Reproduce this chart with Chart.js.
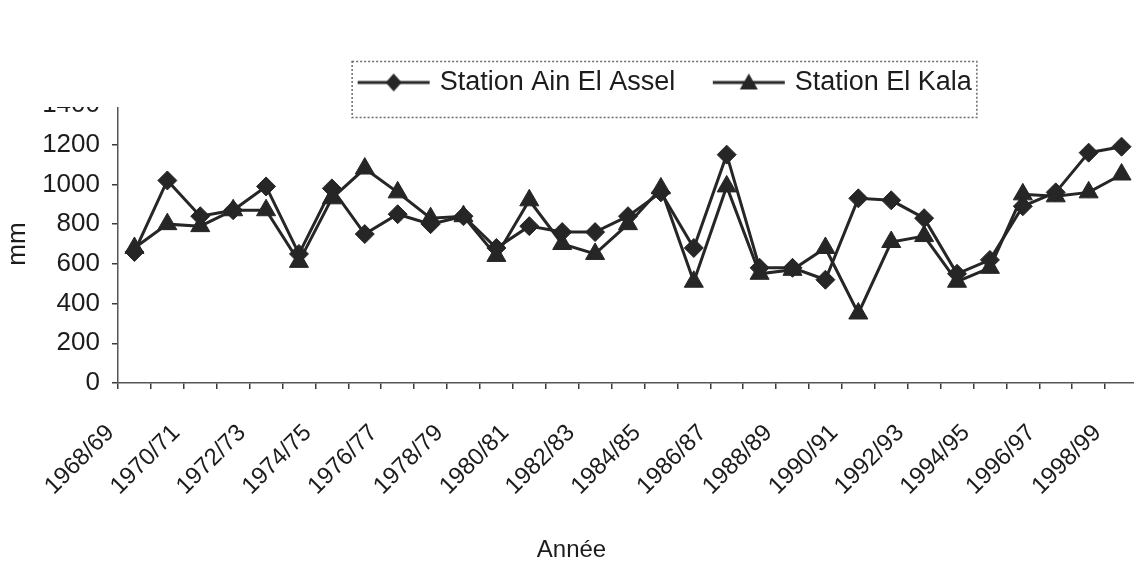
<!DOCTYPE html>
<html>
<head>
<meta charset="utf-8">
<title>Précipitations annuelles</title>
<script src="https://cdn.jsdelivr.net/npm/chart.js@4"></script>
<style>
  html, body { margin: 0; padding: 0; background: #ffffff; overflow: hidden; }
  #wrap { position: relative; width: 1150px; height: 571px; }
</style>
</head>
<body>
<div id="wrap"><canvas id="pluie"></canvas></div>
<script>
// Hydrological years (Sept–Aug)
const years = ['1968/69', '1969/70', '1970/71', '1971/72', '1972/73', '1973/74', '1974/75',
  '1975/76', '1976/77', '1977/78', '1978/79', '1979/80', '1980/81', '1981/82', '1982/83',
  '1983/84', '1984/85', '1985/86', '1986/87', '1987/88', '1988/89', '1989/90', '1990/91',
  '1991/92', '1992/93', '1993/94', '1994/95', '1995/96', '1996/97', '1997/98', '1998/99'];

// Annual rainfall totals, mm
const ainElAssel = [660, 1020, 840, 870, 990, 650, 980, 750, 850, 800, 840, 680, 790, 760, 760,
  840, 960, 680, 1150, 580, 580, 520, 930, 920, 830, 550, 620, 890, 960, 1160, 1190];
const elKala = [680, 800, 790, 870, 870, 610, 930, 1080, 960, 830, 840, 640, 920, 700, 650,
  800, 980, 510, 990, 550, 570, 680, 350, 710, 740, 510, 580, 950, 940, 960, 1050];

const seriesNames = ['Station Ain El Assel', 'Station El Kala'];
const yMin = 0, yMax = 1400, yStep = 200;

const INK = '#262626';
const TEXT = '#1c1c1c';
const FONT = "'Liberation Sans', Arial, sans-serif";

// Legend glyphs: a short line with the series marker in the middle
function legendGlyph(kind) {
  const c = document.createElement('canvas');
  c.width = 74; c.height = 26;
  const g = c.getContext('2d');
  g.strokeStyle = INK; g.fillStyle = INK; g.lineWidth = 3;
  g.beginPath(); g.moveTo(1, 13); g.lineTo(73, 13); g.stroke();
  g.beginPath();
  if (kind === 'diamond') {
    g.moveTo(37, 4); g.lineTo(45, 13); g.lineTo(37, 22); g.lineTo(29, 13);
  } else {
    g.moveTo(37, 4); g.lineTo(46, 20); g.lineTo(28, 20);
  }
  g.closePath(); g.fill();
  return c;
}
const glyphs = [legendGlyph('diamond'), legendGlyph('triangle')];

// Clip the strip above the plot on the left, leave the rest untouched
const topClip = {
  id: 'topClip',
  beforeDraw(chart) {
    const { ctx, width, height } = chart;
    ctx.save();
    ctx.beginPath();
    ctx.rect(0, 107, width, height - 107);
    ctx.rect(140, 0, width - 140, 107);
    ctx.clip();
  },
  afterDraw(chart) { chart.ctx.restore(); }
};

// Move the legend row right and frame it with a dotted box
const legendFrame = {
  id: 'legendFrame',
  afterLayout(chart) {
    const lg = chart.legend;
    lg.left += 95; lg.right += 95;
  },
  afterDraw(chart) {
    const lg = chart.legend;
    const hb = lg.legendHitBoxes;
    if (!hb || !hb.length) return;
    const last = hb[hb.length - 1];
    const opts = lg.options.labels;
    const cy = lg.top + opts.padding + opts.font.size / 2;
    const x0 = hb[0].left - 9, x1 = last.left + last.width + 5;
    const y0 = cy - 21, y1 = cy + 35;
    const ctx = chart.ctx;
    ctx.save();
    ctx.strokeStyle = '#6a6a6a';
    ctx.lineWidth = 1.5;
    ctx.setLineDash([2, 2]);
    ctx.strokeRect(x0, y0, x1 - x0, y1 - y0);
    ctx.restore();
  }
};

new Chart(document.getElementById('pluie'), {
  type: 'line',
  data: {
    labels: years,
    datasets: [
      {
        label: seriesNames[0],
        data: ainElAssel,
        borderColor: INK,
        backgroundColor: INK,
        borderWidth: 3,
        pointStyle: 'rectRot',
        pointRadius: 9.5,
        pointBorderWidth: 1,
        tension: 0
      },
      {
        label: seriesNames[1],
        data: elKala,
        borderColor: INK,
        backgroundColor: INK,
        borderWidth: 3,
        pointStyle: 'triangle',
        pointRadius: 11,
        pointBorderWidth: 1,
        tension: 0
      }
    ]
  },
  options: {
    responsive: true,
    maintainAspectRatio: false,
    animation: false,
    layout: { padding: { top: 28, right: 7, bottom: 0, left: 0 } },
    plugins: {
      tooltip: { enabled: false },
      title: {
        display: true,
        text: 'Année',
        position: 'bottom',
        color: TEXT,
        font: { family: FONT, size: 24, weight: 'normal' },
        padding: { top: 4, bottom: 6 }
      },
      legend: {
        position: 'top',
        align: 'center',
        maxHeight: 77,
        labels: {
          usePointStyle: true,
          pointStyleWidth: 65,
          padding: 41,
          color: TEXT,
          font: { family: FONT, size: 27 },
          generateLabels(chart) {
            const items = Chart.defaults.plugins.legend.labels.generateLabels(chart);
            items.forEach((it, i) => { it.pointStyle = glyphs[i]; });
            return items;
          }
        }
      }
    },
    scales: {
      x: {
        type: 'category',
        offset: true,
        afterFit(scale) {
          scale.height = 149.2;
          scale.paddingRight = 0;
        },
        grid: {
          display: true,
          drawOnChartArea: false,
          drawTicks: true,
          tickLength: 6,
          offset: true,
          color: '#3a3a3a',
          lineWidth: 1.5
        },
        border: { display: true, color: '#555555', width: 1.5, dash: [2, 2] },
        ticks: {
          autoSkip: false,
          minRotation: 45,
          maxRotation: 45,
          padding: 30,
          labelOffset: -24,
          color: TEXT,
          font: { family: FONT, size: 24 },
          callback(value, index) { return index % 2 === 0 ? this.getLabelForValue(value) : ''; }
        }
      },
      y: {
        min: yMin,
        max: yMax,
        afterFit(scale) { scale.width = 118; },
        grid: {
          display: true,
          drawOnChartArea: false,
          drawTicks: true,
          tickLength: 6,
          color: '#3a3a3a',
          lineWidth: 1.5
        },
        border: { display: true, color: '#555555', width: 1.5, dash: [2, 2] },
        ticks: {
          stepSize: yStep,
          padding: 12,
          color: TEXT,
          font: { family: FONT, size: 26 },
          callback(value) { return String(value); }
        },
        title: {
          display: true,
          text: 'mm',
          color: TEXT,
          font: { family: FONT, size: 26 },
          padding: { top: 2, bottom: 0 }
        }
      }
    }
  },
  plugins: [topClip, legendFrame]
});
</script>
</body>
</html>
